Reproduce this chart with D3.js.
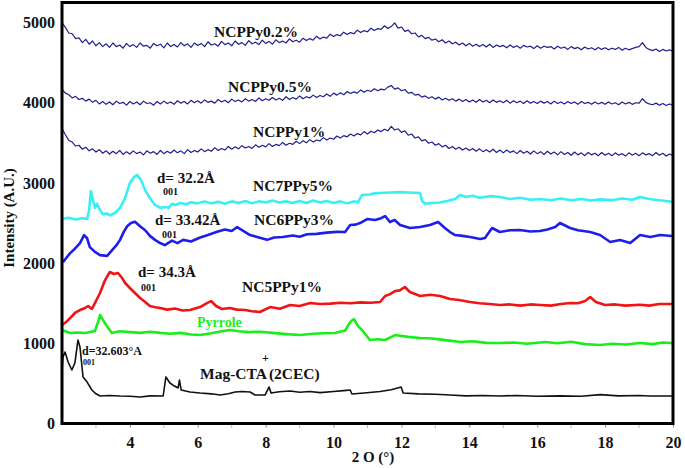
<!DOCTYPE html>
<html><head><meta charset="utf-8">
<script src="https://cdn.jsdelivr.net/npm/d3@7"></script>
<style>
html,body{margin:0;padding:0;background:#fff;}
svg text{font-family:"Liberation Serif","Times New Roman",serif;font-weight:bold;}
</style></head>
<body><svg id="c" width="685" height="468"></svg>
<script>
// ---- data (2θ in degrees, intensity in A.U.) ----
const xTicks = [4, 6, 8, 10, 12, 14, 16, 18, 20];
const yTicks = [0, 1000, 2000, 3000, 4000, 5000];

// sampling grid of the three NCPPy scans: 2.0, 2.1, ... 20.0 degrees
const twoTheta = d3.range(181).map(i => +(2 + i * 0.1).toFixed(1));

const ncppy02Y = [
5000,4940,4870,4860,4800,4810,4750,4790,4730,4770,
4710,4750,4700,4735,4690,4745,4700,4720,4680,4740,
4700,4725,4690,4745,4705,4715,4680,4740,4710,4730,
4685,4745,4700,4725,4695,4750,4710,4735,4690,4745,
4715,4740,4700,4760,4720,4735,4705,4765,4725,4745,
4710,4770,4730,4750,4715,4775,4735,4755,4725,4780,
4740,4765,4730,4785,4750,4770,4745,4795,4760,4780,
4755,4805,4775,4800,4780,4830,4795,4820,4805,4855,
4825,4850,4835,4880,4850,4875,4860,4905,4875,4900,
4885,4930,4900,4925,4915,4960,4925,4950,4995,4930,
4945,4890,4905,4860,4870,4820,4840,4800,4815,4780,
4795,4760,4785,4745,4770,4735,4755,4720,4745,4710,
4740,4705,4730,4700,4725,4695,4730,4690,4720,4700,
4715,4685,4720,4690,4710,4680,4715,4695,4705,4675,
4710,4680,4705,4690,4700,4670,4705,4680,4695,4665,
4700,4675,4690,4660,4695,4670,4685,4660,4690,4665,
4685,4660,4680,4665,4690,4655,4680,4660,4675,4690,
4700,4750,4690,4665,4650,4670,4640,4665,4645,4660,
4640];

const ncppy05Y = [
4170,4120,4100,4060,4080,4040,4055,4020,4045,4005,
4030,3985,4015,3980,4010,3975,4020,3990,4005,3970,
4015,3985,4010,3975,4020,3990,4000,3970,4015,3985,
4020,3990,4010,3980,4025,3995,4015,3985,4030,4000,
4025,3995,4035,4005,4020,3995,4040,4010,4030,4000,
4045,4015,4035,4010,4050,4020,4040,4015,4060,4025,
4050,4030,4065,4035,4055,4030,4075,4040,4065,4045,
4085,4050,4075,4060,4095,4065,4090,4075,4110,4080,
4120,4095,4125,4100,4140,4115,4135,4120,4160,4130,
4155,4140,4175,4150,4170,4160,4195,4215,4170,4185,
4150,4165,4120,4130,4095,4105,4070,4085,4055,4075,
4045,4070,4035,4055,4030,4050,4020,4045,4015,4040,
4010,4035,4005,4040,4010,4030,4000,4035,4005,4025,
4000,4030,3995,4025,4000,4020,3990,4025,3995,4015,
3990,4020,3995,4015,3985,4020,3990,4010,3985,4015,
3990,4010,3980,4015,3990,4005,3980,4010,3985,4005,
3980,4010,3985,4000,3975,4010,3985,4005,3980,4000,
3995,4050,4005,3985,3975,3995,3970,3990,3965,3985,
3970];

const ncppy1Y = [
3680,3600,3530,3510,3460,3470,3420,3445,3400,3425,
3385,3415,3370,3400,3360,3395,3365,3405,3355,3390,
3360,3400,3365,3385,3350,3400,3370,3390,3355,3405,
3365,3395,3370,3410,3375,3400,3365,3415,3380,3405,
3385,3425,3390,3415,3395,3440,3405,3430,3410,3455,
3420,3450,3425,3465,3435,3455,3430,3475,3445,3470,
3450,3490,3455,3480,3465,3505,3470,3495,3480,3520,
3490,3525,3500,3540,3510,3535,3525,3565,3535,3560,
3545,3585,3560,3590,3575,3610,3585,3615,3600,3640,
3610,3645,3625,3660,3640,3670,3650,3705,3660,3675,
3630,3650,3595,3610,3560,3575,3525,3540,3495,3510,
3470,3490,3450,3470,3430,3455,3420,3445,3410,3435,
3405,3430,3395,3425,3390,3415,3385,3420,3380,3410,
3375,3410,3380,3400,3365,3405,3370,3395,3360,3400,
3365,3390,3355,3395,3360,3385,3350,3390,3355,3380,
3345,3385,3350,3375,3340,3380,3350,3370,3340,3380,
3345,3370,3340,3375,3345,3365,3335,3375,3345,3370,
3340,3375,3350,3365,3340,3380,3345,3370,3335,3360,
3340];

const nc7ppy5 = [[2.0,2550],[2.2,2565],[2.4,2545],[2.6,2560],[2.74,2550],[2.8,2660],[2.85,2900],[2.91,2790],[2.97,2690],[3.03,2740],[3.12,2660],[3.21,2610],[3.31,2620],[3.41,2595],[3.56,2625],[3.71,2690],[3.86,2810],[4.0,3000],[4.12,3070],[4.21,3100],[4.33,3035],[4.45,2910],[4.59,2810],[4.74,2725],[4.89,2690],[5.03,2700],[5.15,2690],[5.24,2740],[5.35,2725],[5.48,2750],[5.65,2735],[5.8,2760],[6.0,2745],[6.2,2770],[6.4,2745],[6.6,2765],[6.8,2740],[7.0,2770],[7.2,2750],[7.4,2775],[7.6,2745],[7.8,2770],[8.0,2755],[8.2,2780],[8.4,2755],[8.6,2770],[8.8,2750],[9.0,2775],[9.2,2750],[9.4,2780],[9.6,2755],[9.8,2775],[10.0,2750],[10.2,2770],[10.4,2745],[10.6,2770],[10.72,2760],[10.84,2850],[11.07,2855],[11.2,2870],[11.37,2875],[11.66,2880],[11.96,2885],[12.2,2880],[12.55,2875],[12.61,2775],[12.7,2740],[12.9,2750],[13.14,2755],[13.35,2775],[13.58,2800],[13.73,2850],[13.9,2825],[14.1,2840],[14.3,2815],[14.6,2835],[14.9,2825],[15.2,2800],[15.5,2815],[15.8,2790],[16.08,2800],[16.4,2785],[16.7,2805],[17.0,2785],[17.3,2800],[17.6,2780],[17.85,2795],[18.2,2785],[18.5,2805],[18.8,2790],[19.03,2825],[19.3,2800],[19.6,2785],[19.97,2765]];

const nc6ppy3 = [[2.03,2010],[2.12,2060],[2.24,2125],[2.38,2180],[2.53,2250],[2.65,2350],[2.74,2310],[2.82,2200],[2.97,2140],[3.12,2100],[3.33,2090],[3.47,2160],[3.6,2220],[3.71,2290],[3.82,2390],[3.92,2460],[4.03,2500],[4.15,2515],[4.3,2460],[4.45,2410],[4.59,2340],[4.74,2290],[4.89,2250],[5.03,2225],[5.24,2280],[5.4,2250],[5.57,2290],[5.8,2270],[6.07,2320],[6.3,2350],[6.57,2390],[6.8,2420],[7.0,2400],[7.16,2450],[7.35,2400],[7.54,2350],[7.8,2320],[8.04,2290],[8.25,2320],[8.51,2325],[8.8,2345],[9.0,2330],[9.22,2360],[9.5,2365],[9.8,2380],[10.1,2390],[10.34,2388],[10.49,2475],[10.65,2480],[10.78,2500],[10.99,2550],[11.22,2537],[11.4,2560],[11.52,2587],[11.66,2512],[11.8,2537],[11.96,2475],[12.25,2438],[12.55,2450],[12.84,2475],[13.08,2512],[13.28,2438],[13.43,2388],[13.58,2350],[13.8,2340],[14.02,2325],[14.32,2300],[14.46,2313],[14.67,2438],[14.9,2388],[15.2,2410],[15.49,2413],[15.8,2395],[16.08,2400],[16.3,2420],[16.53,2450],[16.67,2500],[16.97,2438],[17.2,2410],[17.56,2388],[17.85,2350],[18.15,2263],[18.44,2288],[18.74,2250],[19.03,2350],[19.33,2325],[19.62,2350],[19.97,2338]];

const nc5ppy1 = [[2.0,1228],[2.12,1265],[2.24,1315],[2.38,1378],[2.53,1415],[2.68,1440],[2.77,1465],[2.88,1428],[2.97,1502],[3.12,1627],[3.27,1789],[3.41,1889],[3.53,1864],[3.65,1877],[3.77,1814],[3.86,1752],[4.0,1690],[4.15,1627],[4.3,1565],[4.45,1515],[4.59,1465],[4.75,1450],[4.89,1440],[5.1,1420],[5.33,1435],[5.55,1410],[5.77,1415],[6.07,1452],[6.27,1502],[6.39,1527],[6.54,1465],[6.71,1428],[6.95,1440],[7.15,1420],[7.39,1415],[7.6,1400],[7.83,1390],[8.13,1452],[8.42,1430],[8.72,1477],[9.0,1465],[9.31,1502],[9.6,1490],[9.9,1495],[10.2,1505],[10.49,1500],[10.8,1510],[11.1,1505],[11.37,1515],[11.52,1590],[11.65,1610],[11.81,1652],[11.95,1660],[12.1,1702],[12.25,1640],[12.55,1590],[12.85,1605],[13.14,1590],[13.43,1552],[13.7,1540],[14.02,1515],[14.3,1500],[14.6,1490],[14.9,1477],[15.2,1485],[15.5,1470],[15.8,1485],[16.08,1477],[16.4,1470],[16.7,1490],[16.97,1502],[17.2,1500],[17.41,1527],[17.56,1577],[17.73,1515],[18.0,1477],[18.3,1485],[18.6,1470],[19.03,1480],[19.3,1470],[19.6,1490],[19.97,1490]];

const pyrrole = [[2.0,1166],[2.24,1128],[2.45,1135],[2.68,1128],[2.97,1153],[3.06,1265],[3.12,1353],[3.21,1290],[3.3,1228],[3.47,1128],[3.7,1150],[4.0,1140],[4.3,1130],[4.6,1145],[4.89,1130],[5.2,1120],[5.5,1130],[5.8,1110],[6.07,1103],[6.4,1125],[6.7,1150],[6.95,1166],[7.2,1150],[7.5,1140],[7.83,1145],[8.2,1130],[8.6,1115],[9.01,1103],[9.4,1120],[9.7,1125],[10.04,1128],[10.34,1160],[10.49,1265],[10.6,1303],[10.72,1215],[10.84,1166],[11.07,1041],[11.3,1050],[11.52,1041],[11.81,1103],[12.2,1080],[12.55,1066],[12.9,1060],[13.3,1040],[13.73,1016],[14.1,1025],[14.5,1005],[14.9,1003],[15.3,1010],[15.7,995],[16.23,1016],[16.6,1000],[17.0,1020],[17.4,990],[17.85,979],[18.2,995],[18.6,985],[19.03,1003],[19.4,990],[19.7,1010],[19.97,1003]];

const magCTA = [[2.0,667],[2.03,829],[2.09,891],[2.18,767],[2.29,667],[2.38,754],[2.47,1041],[2.53,954],[2.62,580],[2.74,517],[2.88,418],[3.0,370],[3.12,343],[3.4,350],[3.71,343],[4.0,340],[4.3,330],[4.6,345],[4.98,343],[5.06,580],[5.18,505],[5.3,470],[5.42,443],[5.46,542],[5.51,418],[5.77,393],[6.07,380],[6.4,370],[6.66,355],[6.9,370],[7.1,393],[7.3,400],[7.54,393],[7.69,355],[7.98,355],[8.1,455],[8.16,380],[8.4,395],[8.72,405],[9.0,390],[9.3,400],[9.6,385],[10.0,400],[10.3,410],[10.49,418],[10.54,368],[10.9,380],[11.37,400],[11.7,420],[11.99,455],[12.05,380],[12.5,370],[13.0,365],[13.43,355],[13.9,345],[14.4,350],[14.9,343],[15.4,350],[16.0,340],[16.67,345],[17.3,340],[17.85,360],[18.4,345],[19.0,350],[19.33,343],[19.97,343]];

const seriesNames = ["NCPPy0.2%","NCPPy0.5%","NCPPy1%","NC7PPy5%","NC6PPy3%","NC5PPy1%","Pyrrole","Mag-CTA"];
const dLabels = ["d= 32.2Å","d= 33.42Å","d= 34.3Å","d=32.603°A"];
const subLabel = "001";

// ---- drawing ----
const svg = d3.select("#c");
const x = d3.scaleLinear().domain([2, 20]).range([62, 673]);
const y = d3.scaleLinear().domain([0, 5250]).range([423.5, 2.5]);

const line = d3.line().x(d => x(d[0])).y(d => y(d[1]));
const onGrid = ys => twoTheta.map((t, i) => [t, ys[i]]);

const styles = [
  {data: onGrid(ncppy02Y), color: "#1f1f8f", w: 1.2},
  {data: onGrid(ncppy05Y), color: "#1f1f8f", w: 1.2},
  {data: onGrid(ncppy1Y),  color: "#1f1f8f", w: 1.2},
  {data: nc7ppy5, color: "#36f0f6", w: 2.6},
  {data: nc6ppy3, color: "#1e1ee8", w: 2.6},
  {data: nc5ppy1, color: "#f01414", w: 2.6},
  {data: pyrrole, color: "#1aee1a", w: 2.6},
  {data: magCTA,  color: "#111111", w: 1.6}
];
styles.forEach(s => {
  svg.append("path").attr("d", line(s.data)).attr("fill", "none")
    .attr("stroke", s.color).attr("stroke-width", s.w).attr("stroke-linejoin", "round");
});

// axes
const yAxis = d3.axisLeft(y).tickValues(yTicks).tickSize(0).tickPadding(6).tickFormat(d3.format("d"));
const gy = svg.append("g").attr("transform", "translate(62,0)").call(yAxis);
gy.select(".domain").remove();
gy.selectAll("text").attr("font-size", 16).attr("fill", "#111").attr("dx", -1);

const xAxis = d3.axisBottom(x).tickValues(xTicks).tickSize(4).tickPadding(9);
const gx = svg.append("g").attr("transform", "translate(0,423.5)").call(xAxis);
gx.select(".domain").remove();
gx.selectAll("line").attr("stroke", "#888").attr("stroke-width", 1);
gx.selectAll("text").attr("font-size", 16).attr("fill", "#111");
// minor ticks
svg.append("g").selectAll("line").data(d3.range(3, 20, 2)).join("line")
  .attr("x1", d => x(d)).attr("x2", d => x(d)).attr("y1", 425).attr("y2", 428)
  .attr("stroke", "#bbb").attr("stroke-width", 1);

// frame
svg.append("rect").attr("x", 62).attr("y", 2.5).attr("width", 611).attr("height", 421)
  .attr("fill", "none").attr("stroke", "#000").attr("stroke-width", 3);

// axis titles
svg.append("text").attr("transform", "translate(14,218) rotate(-90)").attr("text-anchor", "middle")
  .attr("font-size", 15).attr("fill", "#111").text("Intensity (A.U.)");
svg.append("text").attr("x", 373).attr("y", 462).attr("text-anchor", "middle")
  .attr("font-size", 15).attr("fill", "#111").text("2 O (°)");

// series labels
const lab = (t, px, py, size, color) => svg.append("text").attr("x", px).attr("y", py)
  .attr("font-size", size).attr("fill", color || "#111").text(t);
lab(seriesNames[0], 214, 37, 15.5);
lab(seriesNames[1], 228, 92, 15.5);
lab(seriesNames[2], 253, 137, 15.5);
lab(seriesNames[3], 253, 191, 15.5);
lab(seriesNames[4], 254, 225, 15.5);
lab(seriesNames[5], 242, 292, 15.5);
lab(seriesNames[6], 197, 327, 14, "#1aee1a");
const mag = lab("", 200, 379, 15.5);
mag.append("tspan").text(seriesNames[7]);
mag.append("tspan").text("(2CEC)").attr("dx", 2);
lab("+", 262, 362, 12);

// d-spacing annotations
lab(dLabels[0], 157, 183, 15); lab(subLabel, 163, 195, 10);
lab(dLabels[1], 155, 225, 15); lab(subLabel, 162, 238, 10);
lab(dLabels[2], 138, 277, 15); lab(subLabel, 141, 291, 10);
lab(dLabels[3], 82, 355, 12);  lab(subLabel, 83, 365, 8);
</script></body></html>
